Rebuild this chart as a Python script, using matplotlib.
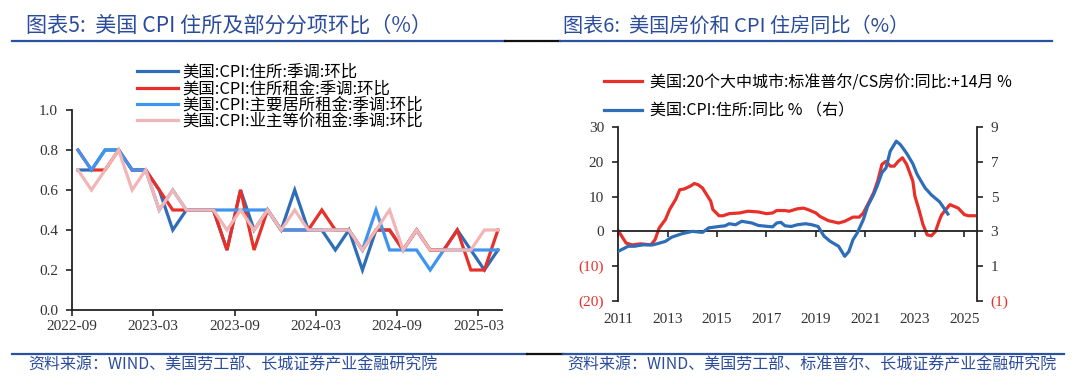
import numpy as np
import pandas as pd
import matplotlib
matplotlib.use('Agg')
import matplotlib.pyplot as plt
import matplotlib.dates as mdates
from matplotlib.lines import Line2D
from matplotlib.ticker import FixedLocator, FixedFormatter

CJK = ['Noto Sans CJK SC', 'DejaVu Sans']
SERIF = ['Liberation Serif', 'DejaVu Serif']
plt.rcParams['font.family'] = CJK
plt.rcParams['axes.unicode_minus'] = False

# ---------------- Left chart data (MoM, %) ----------------
months = pd.period_range('2022-09', '2025-04', freq='M').strftime('%Y-%m').tolist()
shelter = [0.7, 0.7, 0.8, 0.8, 0.7, 0.7, 0.6, 0.4, 0.5, 0.5, 0.5, 0.3, 0.6, 0.4, 0.5, 0.4,
           0.6, 0.4, 0.4, 0.3, 0.4, 0.2, 0.4, 0.4, 0.3, 0.4, 0.3, 0.3, 0.4, 0.3, 0.2, 0.3]
rent_shelter = [0.8, 0.7, 0.7, 0.8, 0.7, 0.7, 0.6, 0.5, 0.5, 0.5, 0.5, 0.3, 0.6, 0.3, 0.5, 0.4,
                0.4, 0.4, 0.5, 0.4, 0.4, 0.3, 0.4, 0.4, 0.3, 0.4, 0.3, 0.3, 0.4, 0.2, 0.2, 0.4]
rent_primary = [0.8, 0.7, 0.8, 0.8, 0.7, 0.7, 0.5, 0.6, 0.5, 0.5, 0.5, 0.5, 0.5, 0.5, 0.5, 0.4,
                0.4, 0.4, 0.4, 0.4, 0.4, 0.3, 0.5, 0.3, 0.3, 0.3, 0.2, 0.3, 0.3, 0.3, 0.3, 0.3]
oer = [0.7, 0.6, 0.7, 0.8, 0.6, 0.7, 0.5, 0.6, 0.5, 0.5, 0.5, 0.4, 0.5, 0.4, 0.5, 0.4,
       0.5, 0.4, 0.4, 0.4, 0.4, 0.3, 0.4, 0.5, 0.3, 0.4, 0.3, 0.3, 0.3, 0.3, 0.4, 0.4]
left_labels = ['美国:CPI:住所:季调:环比', '美国:CPI:住所租金:季调:环比',
               '美国:CPI:主要居所租金:季调:环比', '美国:CPI:业主等价租金:季调:环比']
left_yticks = [0.0, 0.2, 0.4, 0.6, 0.8, 1.0]

# ---------------- Right chart data ----------------
hp_dates = ['2011-01', '2011-05', '2011-08', '2011-12', '2012-05', '2012-07', '2012-09', '2012-12',
            '2013-02', '2013-05', '2013-07', '2013-09', '2013-12', '2014-02', '2014-04', '2014-06',
            '2014-08', '2014-10', '2014-11', '2015-02', '2015-04', '2015-07', '2015-12', '2016-04',
            '2016-09', '2017-01', '2017-04', '2017-06', '2017-10', '2017-12', '2018-04', '2018-07',
            '2018-09', '2019-01', '2019-03', '2019-07', '2019-12', '2020-03', '2020-07', '2020-10',
            '2020-12', '2021-03', '2021-05', '2021-07', '2021-09', '2021-11', '2022-01', '2022-03',
            '2022-05', '2022-07', '2022-09', '2022-12', '2023-01', '2023-03', '2023-05', '2023-07',
            '2023-09', '2023-11', '2024-01', '2024-02', '2024-04', '2024-06', '2024-08', '2024-10',
            '2025-01', '2025-03', '2025-06']
hp_yoy = [0.3, -3.4, -3.9, -3.6, -3.9, -2.4, 1.0, 3.4,
          6.3, 9.2, 12.0, 12.2, 13.0, 13.8, 13.4, 12.5,
          10.6, 8.7, 6.3, 4.5, 4.5, 5.1, 5.3, 5.8,
          5.6, 5.1, 5.3, 6.0, 6.0, 5.8, 6.5, 6.7,
          6.3, 5.3, 4.3, 3.1, 2.4, 2.9, 4.1, 4.1,
          5.3, 8.7, 11.1, 14.5, 19.3, 20.2, 18.8, 18.8,
          20.2, 21.2, 19.3, 14.5, 10.1, 6.3, 1.9, -1.0,
          -1.3, 0.0, 3.4, 4.8, 6.3, 7.7, 7.2, 6.7,
          4.8, 4.5, 4.5]
cpi_dates = ['2011-01', '2011-06', '2011-09', '2012-01', '2012-06', '2012-09', '2012-12', '2013-03',
             '2013-08', '2014-01', '2014-06', '2014-09', '2015-02', '2015-05', '2015-07', '2015-10',
             '2016-01', '2016-06', '2016-09', '2017-02', '2017-04', '2017-06', '2017-08', '2017-10',
             '2018-01', '2018-04', '2018-08', '2018-11', '2019-02', '2019-05', '2019-08', '2019-12',
             '2020-03', '2020-05', '2020-07', '2020-09', '2020-12', '2021-02', '2021-05', '2021-07',
             '2021-09', '2021-11', '2022-01', '2022-04', '2022-06', '2022-09', '2022-12', '2023-02',
             '2023-04', '2023-06', '2023-09', '2024-01', '2024-03', '2024-05']
cpi_shelter_yoy = [1.84, 2.14, 2.14, 2.22, 2.22, 2.32, 2.42, 2.66,
                   2.86, 3.0, 2.94, 3.2, 3.28, 3.32, 3.44, 3.38,
                   3.58, 3.48, 3.34, 3.28, 3.26, 3.48, 3.52, 3.32,
                   3.28, 3.38, 3.44, 3.38, 3.28, 2.72, 2.42, 2.14,
                   1.56, 1.84, 2.52, 2.9, 3.68, 4.44, 5.12, 5.7,
                   6.38, 6.66, 7.62, 8.2, 8.0, 7.5, 6.9, 6.3,
                   5.9, 5.5, 5.1, 4.7, 4.36, 4.0]
right_labels = ['美国:20个大中城市:标准普尔/CS房价:同比:+14月 %', '美国:CPI:住所:同比 % （右）']
r_left_ticks = [-20, -10, 0, 10, 20, 30]
r_left_ticklabels = ['(20)', '(10)', '0', '10', '20', '30']
r_right_ticks = [-1, 1, 3, 5, 7, 9]
r_right_ticklabels = ['(1)', '1', '3', '5', '7', '9']
r_year_ticks = [2011, 2013, 2015, 2017, 2019, 2021, 2023, 2025]

# ---------------- Styles ----------------
W, H = 1080, 387
DARK_BLUE = '#2E6DB8'
RED = '#E8302A'
LIGHT_BLUE = '#3F94F0'
PINK = '#F2B5B5'
TITLE_BLUE = '#2B4C9B'
NEG_RED = '#E8302A'

fig = plt.figure(figsize=(W / 100, H / 100), dpi=100)
fig.patch.set_facecolor('white')


def fx(px):
    return px / W


def fy(py):
    return 1 - py / H


# ---------------- Left axes ----------------
axL = fig.add_axes([fx(72), fy(310), fx(502) - fx(72), fy(110) - fy(310)])
x = np.arange(len(months))
lw = 2.3
l1, = axL.plot(x, shelter, color=DARK_BLUE, lw=lw, solid_joinstyle='miter')
l2, = axL.plot(x, rent_shelter, color=RED, lw=lw, solid_joinstyle='miter')
l3, = axL.plot(x, rent_primary, color=LIGHT_BLUE, lw=lw, solid_joinstyle='miter')
l4, = axL.plot(x, oer, color=PINK, lw=lw, solid_joinstyle='miter')
axL.set_ylim(0, 1.0)
axL.set_xlim(-0.44, 31.3)
tick_pos = [-0.44 + 6 * k for k in range(6)]
axL.xaxis.set_major_locator(FixedLocator(tick_pos))
axL.xaxis.set_major_formatter(FixedFormatter(months[::6]))
axL.yaxis.set_major_locator(FixedLocator(left_yticks))
axL.yaxis.set_major_formatter(FixedFormatter([f'{v:.1f}' for v in left_yticks]))
for s in ['top', 'right']:
    axL.spines[s].set_visible(False)
for s in ['left', 'bottom']:
    axL.spines[s].set_linewidth(1.3)
    axL.spines[s].set_color('#222222')
axL.tick_params(axis='both', direction='out', length=4, width=1.2, color='#222222',
                labelsize=11, labelcolor='#333333')
axL.tick_params(axis='x', pad=3)
axL.tick_params(axis='y', pad=6)
for t in axL.get_xticklabels() + axL.get_yticklabels():
    t.set_family(SERIF)

fig.legend([l1, l2, l3, l4], left_labels, loc='upper left',
           bbox_to_anchor=(fx(137), fy(64)), frameon=False,
           handlelength=2.5, handletextpad=0.25, labelspacing=-0.04, borderpad=0,
           borderaxespad=0, prop={'family': CJK, 'size': 11.8})

# ---------------- Right axes ----------------
axR = fig.add_axes([fx(618), fy(300.7), fx(976.7) - fx(618), fy(127.3) - fy(300.7)])
hp_x = pd.to_datetime(hp_dates)
cpi_x = pd.to_datetime(cpi_dates)
r1, = axR.plot(hp_x, hp_yoy, color=RED, lw=2.3)
axR.set_ylim(-20, 30)
axR.set_xlim(pd.Timestamp('2011-01-01'), pd.Timestamp('2025-07-01'))
axR2 = axR.twinx()
r2, = axR2.plot(cpi_x, cpi_shelter_yoy, color=DARK_BLUE, lw=2.3)
axR2.set_ylim(-1, 9)

axR.xaxis.set_major_locator(FixedLocator(
    [mdates.date2num(pd.Timestamp(f'{y}-01-01')) for y in r_year_ticks]))
axR.xaxis.set_major_formatter(FixedFormatter([str(y) for y in r_year_ticks]))
axR.yaxis.set_major_locator(FixedLocator(r_left_ticks))
axR.yaxis.set_major_formatter(FixedFormatter(r_left_ticklabels))
axR2.yaxis.set_major_locator(FixedLocator(r_right_ticks))
axR2.yaxis.set_major_formatter(FixedFormatter(r_right_ticklabels))

for a in (axR, axR2):
    a.spines['top'].set_visible(False)
    for s in ['left', 'right', 'bottom']:
        a.spines[s].set_linewidth(1.3)
        a.spines[s].set_color('#222222')
axR.spines['right'].set_visible(False)
axR2.spines['left'].set_visible(False)
axR2.spines['bottom'].set_visible(False)
axR.spines['bottom'].set_position(('data', 0))
axR.tick_params(axis='y', direction='out', length=4, width=1.2, color='#222222',
                labelsize=11, labelcolor='#333333', pad=6)
axR2.tick_params(axis='y', direction='out', length=4, width=1.2, color='#222222',
                 labelsize=11, labelcolor='#333333', pad=6)
axR.tick_params(axis='x', direction='out', length=4, width=1.2, color='#222222',
                labelsize=11, labelcolor='#333333', pad=55)
for t in axR.get_xticklabels() + axR.get_yticklabels() + axR2.get_yticklabels():
    t.set_family(SERIF)
    if t.get_text().startswith('('):
        t.set_color(NEG_RED)

fig.legend([r1, r2], right_labels, loc='upper left',
           bbox_to_anchor=(fx(604), fy(74)), frameon=False,
           handlelength=2.4, handletextpad=0.45, labelspacing=0.7, borderpad=0,
           borderaxespad=0, prop={'family': CJK, 'size': 11.5})

# ---------------- Titles, rules, footers ----------------
fig.text(fx(26), fy(26), '图表5:  美国 CPI 住所及部分分项环比（%）', color=TITLE_BLUE,
         fontsize=15.2, va='center', ha='left', style='italic', family=CJK)
fig.text(fx(563), fy(26), '图表6:  美国房价和 CPI 住房同比（%）', color=TITLE_BLUE,
         fontsize=14.5, va='center', ha='left', style='italic', family=CJK)

RULE_BLUE = '#2A52A0'
for (x0, x1, c, yy) in [(12, 505, RULE_BLUE, 41), (505, 560, '#111111', 41), (560, 1052, RULE_BLUE, 41),
                        (12, 527, RULE_BLUE, 354), (527, 563, '#111111', 354), (563, 1064, RULE_BLUE, 354)]:
    fig.add_artist(Line2D([fx(x0), fx(x1)], [fy(yy), fy(yy)], color=c, lw=1.6,
                          transform=fig.transFigure))

fig.text(fx(28), fy(365), '资料来源：WIND、美国劳工部、长城证券产业金融研究院', color=TITLE_BLUE,
         fontsize=11.5, va='center', ha='left', style='italic', family=CJK)
fig.text(fx(567), fy(365), '资料来源：WIND、美国劳工部、标准普尔、长城证券产业金融研究院', color=TITLE_BLUE,
         fontsize=11.5, va='center', ha='left', style='italic', family=CJK)

fig.savefig('out.png', dpi=100, facecolor='white')
